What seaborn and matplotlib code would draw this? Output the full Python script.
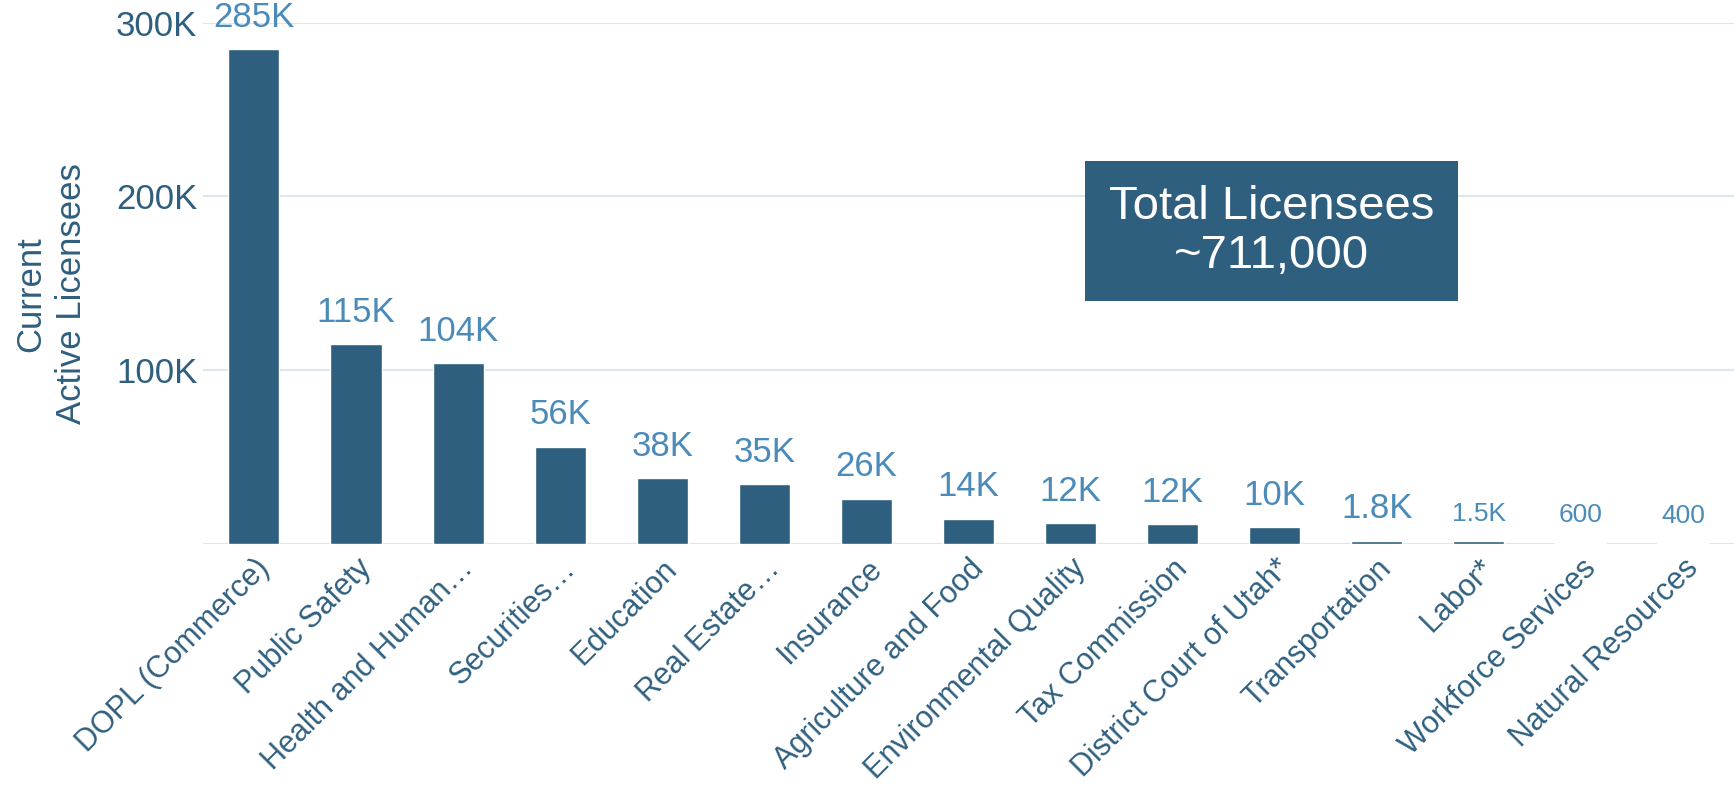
import pandas as pd
import matplotlib
matplotlib.use('Agg')
import matplotlib.pyplot as plt
import seaborn as sns

# данные
agencies = ['DOPL (Commerce)', 'Public Safety', 'Health and Human…', 'Securities…',
            'Education', 'Real Estate…', 'Insurance', 'Agriculture and Food',
            'Environmental Quality', 'Tax Commission', 'District Court of Utah*',
            'Transportation', 'Labor*', 'Workforce Services', 'Natural Resources']
licensees = [285000, 115000, 104000, 56000, 38000, 34500, 26000, 14500,
             12000, 11500, 9800, 1800, 1500, 600, 400]
bar_text = ['285K', '115K', '104K', '56K', '38K', '35K', '26K', '14K',
            '12K', '12K', '10K', '1.8K', '1.5K', '600', '400']
small_labels = ['1.5K', '600', '400']
y_ticks = [100000, 200000, 300000]
y_tick_text = ['100K', '200K', '300K']
total_text = 'Total Licensees\n~711,000'

dark = '#2f5f7e'
light = '#4a8bba'
grid = '#dce6f0'

sns.set_style('white')
plt.rcParams['font.family'] = ['Liberation Sans', 'DejaVu Sans']

df = pd.DataFrame({'agency': agencies, 'count': licensees})

fig = plt.figure(figsize=(17.34, 7.87), dpi=100)
ax = fig.add_axes([0.117, 0.309, 0.883, 0.662])

sns.barplot(data=df, x='agency', y='count', color=dark, width=0.5,
            saturation=1, ax=ax, zorder=3)

ax.set_ylim(0, 300000)
ax.set_xlim(-0.5, len(agencies) - 0.5)
ax.set_yticks(y_ticks)
ax.set_yticklabels(y_tick_text, fontsize=25, color=dark)
ax.yaxis.grid(True, color=grid, linewidth=1.5, zorder=0)
ax.axhline(0, color=grid, linewidth=1.5, zorder=1)
ax.tick_params(axis='both', length=0, pad=4)
for s in ax.spines.values():
    s.set_visible(False)

ax.set_xticks(range(len(agencies)))
ax.set_xticklabels(agencies, rotation=45, ha='right', rotation_mode='anchor',
                   fontsize=22, color=dark)
ax.tick_params(axis='x', pad=7)
ax.set_xlabel('')
ax.set_ylabel('Current\nActive Licensees', fontsize=25, color=dark,
              linespacing=1.3)
ax.yaxis.set_label_coords(-0.075, 0.48)

# подписи над столбцами
for i, (v, t) in enumerate(zip(licensees, bar_text)):
    fs = 19 if t in small_labels else 25
    ax.annotate(t, (i, v), xytext=(0, 11), textcoords='offset points',
                ha='center', va='bottom', fontsize=fs, color=light,
                annotation_clip=False)

ax.text(0.698, 0.60, total_text, transform=ax.transAxes, ha='center', va='center',
        fontsize=34, color='white', linespacing=1.15,
        bbox=dict(boxstyle='square,pad=0.5', facecolor=dark, edgecolor='none'))

fig.savefig('out.png', dpi=100)
plt.close()
